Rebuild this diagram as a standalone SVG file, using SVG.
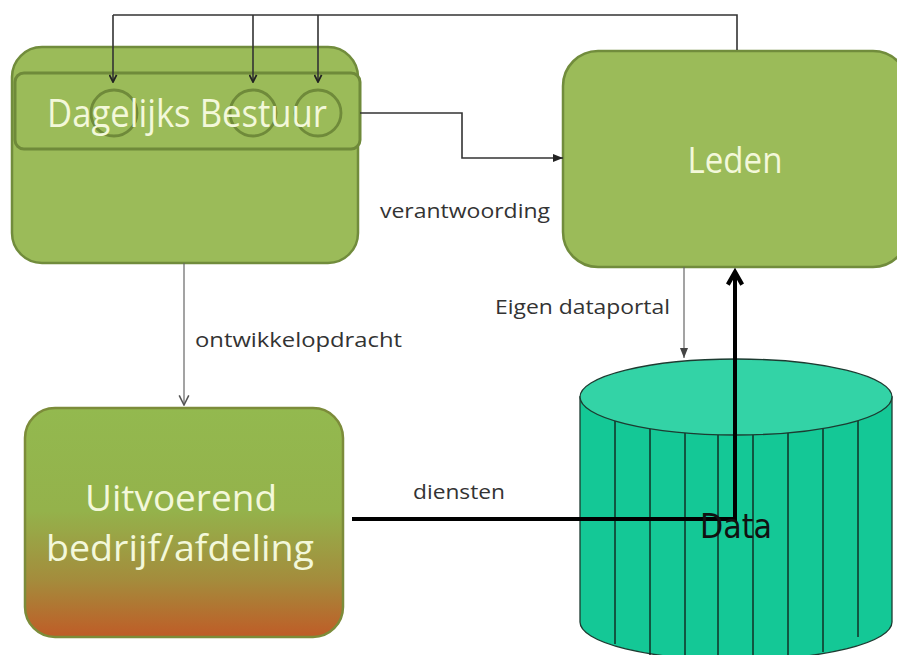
<svg xmlns="http://www.w3.org/2000/svg" width="897" height="655" viewBox="0 0 897 655">
  <style>
    .box { fill: #9bbb59; stroke: #718c3c; stroke-width: 2.5; }
    .band { fill: #9bbb59; stroke: #6f8a3a; stroke-width: 3; }
    .ring { fill: none; stroke: #6f8a3a; stroke-width: 2.8; }
    .ntext { font-family: "Open Sans", "Liberation Sans", sans-serif; fill: #f3f8da; text-anchor: middle; }
    .lbl { font-family: "Open Sans", "Liberation Sans", sans-serif; font-size: 20px; fill: #333; }
    .thin { fill: none; stroke: #333; stroke-width: 1.6; }
    .grey { fill: none; stroke: #666; stroke-width: 1.2; }
    .heavy { fill: none; stroke: #000; stroke-width: 4; }
    .cyl { fill: #14c896; stroke: #1d3b31; stroke-width: 1.3; }
    .cyltop { fill: #33d3a6; stroke: #1d3b31; stroke-width: 1.3; }
    .rib { stroke: #10261e; stroke-width: 1.4; }
  </style>
  <defs>
    <marker id="vhead" viewBox="0 0 10 10" refX="9" refY="5" markerWidth="9" markerHeight="9" markerUnits="userSpaceOnUse" orient="auto">
      <path d="M1,1 L9,5 L1,9" fill="none" stroke="#222" stroke-width="2"/>
    </marker>
    <marker id="fhead" viewBox="0 0 10 10" refX="10" refY="5" markerWidth="10" markerHeight="10" markerUnits="userSpaceOnUse" orient="auto">
      <path d="M0,1 L10,5 L0,9 Z" fill="#222"/>
    </marker>
    <marker id="ghead" viewBox="0 0 10 10" refX="10" refY="5" markerWidth="10" markerHeight="10" markerUnits="userSpaceOnUse" orient="auto">
      <path d="M0,1 L10,5 L0,9 Z" fill="#444"/>
    </marker>
    <marker id="ohead" viewBox="0 0 10 10" refX="9" refY="5" markerWidth="12" markerHeight="12" markerUnits="userSpaceOnUse" orient="auto">
      <path d="M1,1 L9,5 L1,9" fill="none" stroke="#555" stroke-width="1.3"/>
    </marker>
    <marker id="bhead" viewBox="0 0 10 10" refX="8" refY="5" markerWidth="18" markerHeight="18" markerUnits="userSpaceOnUse" orient="auto">
      <path d="M1,1 L8,5 L1,9" fill="none" stroke="#000" stroke-width="2.4"/>
    </marker>
    <linearGradient id="uitv" x1="0" y1="0" x2="0" y2="1">
      <stop offset="0" stop-color="#93b94f"/>
      <stop offset="0.45" stop-color="#94b24b"/>
      <stop offset="0.75" stop-color="#a48c3c"/>
      <stop offset="1" stop-color="#bf5c27"/>
    </linearGradient>
  </defs>

  <rect width="897" height="655" fill="#fff"/>

  <!-- Data store (cylinder) -->
  <g id="data">
    <path class="cyl" d="M580,397 L580,622 A156,38 0 0 0 892,622 L892,397 Z"/>
    <g class="rib">
      <line x1="615" y1="421" x2="615" y2="644"/>
      <line x1="650" y1="429" x2="650" y2="655"/>
      <line x1="685" y1="433" x2="685" y2="655"/>
      <line x1="718" y1="435" x2="718" y2="655"/>
      <line x1="753" y1="435" x2="753" y2="655"/>
      <line x1="788" y1="433" x2="788" y2="655"/>
      <line x1="823" y1="428" x2="823" y2="652"/>
      <line x1="858" y1="421" x2="858" y2="637"/>
    </g>
    <ellipse class="cyltop" cx="736" cy="397" rx="156" ry="38"/>
  </g>

  <!-- Dagelijks Bestuur -->
  <g id="bestuur">
    <rect class="box" x="12" y="47" width="346" height="216" rx="30"/>
    <rect class="band" x="15" y="73" width="345" height="76" rx="9"/>
    <circle class="ring" cx="114" cy="113" r="23"/>
    <circle class="ring" cx="253" cy="113" r="23"/>
    <circle class="ring" cx="318" cy="113" r="23"/>
    <text class="ntext" x="187" y="127" font-size="38" textLength="280" lengthAdjust="spacingAndGlyphs">Dagelijks Bestuur</text>
  </g>

  <!-- Leden -->
  <g id="leden">
    <rect class="box" x="563" y="51" width="345" height="216" rx="35"/>
    <text class="ntext" x="735" y="173" font-size="36" textLength="95" lengthAdjust="spacingAndGlyphs">Leden</text>
  </g>

  <!-- Uitvoerend bedrijf/afdeling -->
  <g id="uitvoerend">
    <rect x="25" y="408" width="318" height="229" rx="30" fill="url(#uitv)" stroke="#7c8c3a" stroke-width="2.5"/>
    <text class="ntext" x="181" y="511" font-size="36" textLength="192" lengthAdjust="spacingAndGlyphs">Uitvoerend</text>
    <text class="ntext" x="180" y="561" font-size="36" textLength="268" lengthAdjust="spacingAndGlyphs">bedrijf/afdeling</text>
  </g>

  <!-- Connectors -->
  <g id="connectors">
    <polyline class="thin" points="737,50 737,15 113,15"/>
    <line class="thin" x1="113" y1="15" x2="113" y2="82" marker-end="url(#vhead)"/>
    <line class="thin" x1="253" y1="15" x2="253" y2="82" marker-end="url(#vhead)"/>
    <line class="thin" x1="318" y1="15" x2="318" y2="82" marker-end="url(#vhead)"/>
    <polyline class="thin" points="360,113 462,113 462,158 563,158" marker-end="url(#fhead)"/>
    <line class="grey" x1="184" y1="263" x2="184" y2="405" marker-end="url(#ohead)"/>
    <line class="grey" x1="684" y1="267" x2="684" y2="358" marker-end="url(#ghead)"/>
    <polyline class="heavy" points="352,519 735,519 735,272" marker-end="url(#bhead)"/>
  </g>

  <!-- Connector labels -->
  <g id="labels">
    <text class="lbl" x="380" y="218" textLength="170" lengthAdjust="spacingAndGlyphs">verantwoording</text>
    <text class="lbl" x="195" y="347" textLength="207" lengthAdjust="spacingAndGlyphs">ontwikkelopdracht</text>
    <text class="lbl" x="495" y="314" textLength="175" lengthAdjust="spacingAndGlyphs">Eigen dataportal</text>
    <text class="lbl" x="413" y="499" textLength="92" lengthAdjust="spacingAndGlyphs">diensten</text>
  </g>

  <text x="700" y="538" font-family="DejaVu Sans, Verdana, sans-serif" font-size="34" fill="#111" textLength="72" lengthAdjust="spacingAndGlyphs">Data</text>
</svg>
